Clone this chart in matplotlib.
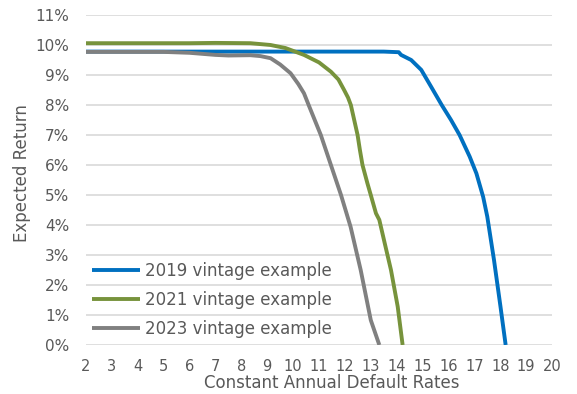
import matplotlib.pyplot as plt
from matplotlib.ticker import FuncFormatter

# data (x = constant annual default rate, y = expected return %)
x_2019 = [2, 4, 6, 8, 10, 12, 13.5, 14.08, 14.17, 14.56, 14.95, 15.33, 15.74, 16.1, 16.43,
          16.82, 17.08, 17.34, 17.5, 17.76, 18.01, 18.21]
y_2019 = [9.78, 9.78, 9.78, 9.78, 9.78, 9.78, 9.78, 9.76, 9.67, 9.5, 9.17, 8.61, 8.0, 7.5, 7.0,
          6.28, 5.72, 4.94, 4.28, 2.83, 1.28, 0.0]

x_2021 = [2, 4, 6, 7, 8.35, 9.13, 9.7, 10.42, 11.0, 11.46, 11.75, 11.97, 12.12, 12.23, 12.36,
          12.49, 12.58, 12.68, 12.87, 13.0, 13.2, 13.33, 13.55, 13.78, 14.04, 14.23]
y_2021 = [10.06, 10.06, 10.06, 10.07, 10.06, 10.0, 9.9, 9.67, 9.42, 9.11, 8.85, 8.5, 8.25, 8.0, 7.5,
          7.0, 6.5, 6.0, 5.39, 5.0, 4.39, 4.17, 3.35, 2.5, 1.28, 0.0]

x_2023 = [2, 4, 5, 6, 7, 7.5, 8.35, 8.74, 9.13, 9.5, 9.9, 10.2, 10.42, 10.6, 11.07, 11.46,
          11.85, 12.22, 12.61, 13.0, 13.33]
y_2023 = [9.77, 9.77, 9.77, 9.74, 9.67, 9.65, 9.66, 9.63, 9.56, 9.35, 9.06, 8.7, 8.39, 8.0, 7.0,
          6.0, 5.0, 3.94, 2.5, 0.83, 0.0]

labels = ['2019 vintage example', '2021 vintage example', '2023 vintage example']
colors = ['#0070C0', '#77933C', '#808080']

txt = '#595959'
plt.rcParams['font.family'] = 'DejaVu Sans'

fig = plt.figure(figsize=(5.77, 3.94), dpi=100)
ax = fig.add_axes([86 / 577, 49 / 394, 466 / 577, 330 / 394])

for xs, ys, lab, c in zip([x_2019, x_2021, x_2023], [y_2019, y_2021, y_2023], labels, colors):
    ax.plot(xs, ys, color=c, lw=2.8, label=lab, solid_joinstyle='round', solid_capstyle='butt')

ax.set_xlim(2, 20)
ax.set_ylim(0, 11)
ax.set_xticks(range(2, 21))
ax.set_yticks(range(0, 12))
ax.yaxis.set_major_formatter(FuncFormatter(lambda v, p: f'{v:.0f}%'))
ax.grid(axis='y', color='#d9d9d9', lw=1.2)
ax.set_axisbelow(True)
for s in ax.spines.values():
    s.set_visible(False)
ax.tick_params(length=0, labelsize=10.5, labelcolor=txt)
ax.tick_params(axis='y', pad=12, labelsize=11)
ax.tick_params(axis='x', pad=10)

ax.set_xlabel('Constant Annual Default Rates', fontsize=12, color=txt)
ax.set_ylabel('Expected Return', fontsize=12, color=txt)
ax.xaxis.set_label_coords(0.527, -0.088)
ax.yaxis.set_label_coords(-0.118, 0.52)

leg = ax.legend(loc='upper left', bbox_to_anchor=(0.013, 0.253), frameon=False, fontsize=12,
                handlelength=2.9, handletextpad=0.3, labelspacing=0.68, borderpad=0, borderaxespad=0)
for t in leg.get_texts():
    t.set_color(txt)

fig.savefig('out.png', dpi=100)
